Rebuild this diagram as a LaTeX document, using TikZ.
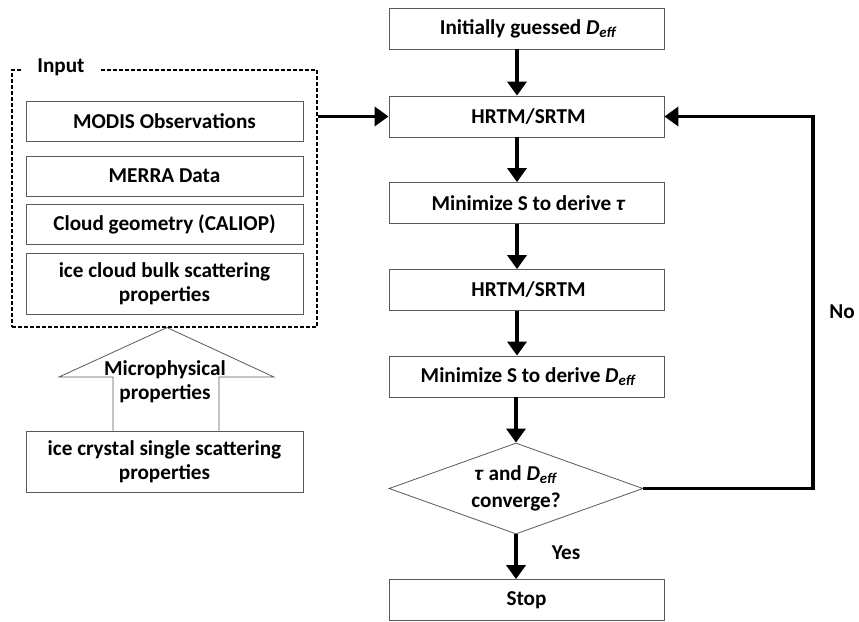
\documentclass[tikz,border=0pt]{standalone}
\usepackage{fontspec}
\setmainfont{Carlito}
\usetikzlibrary{arrows.meta,shapes.geometric,calc}
\tikzset{
  box/.style={draw=black!65, line width=0.8pt, fill=white, inner sep=0pt, align=center,
    font=\fontsize{21.2}{24}\selectfont\bfseries},
  wide/.style={box, minimum width=275pt, minimum height=41pt},
  inbox/.style={box, minimum width=277pt, minimum height=40pt},
  arr/.style={line width=3.6pt, -{Triangle[width=19pt,length=14pt]}},
  lab/.style={font=\fontsize{21.2}{24}\selectfont\bfseries, inner sep=0pt, align=center},
  dashbox/.style={draw=black, line width=1.1pt, dash pattern=on 4pt off 2pt, inner sep=0pt}
}
\newcommand{\Deff}{\textit{D}\textsubscript{\textit{eff}}}
\begin{document}
\begin{tikzpicture}[x=1pt,y=-1pt]
\useasboundingbox (0,0) rectangle (859,621);
% right column
\node[wide] (init) at (526.5,28.5) {\hspace*{4pt}Initially guessed \Deff};
\node[wide] (h1) at (526.5,116.5) {\hspace*{4pt}HRTM/SRTM};
\node[wide] (mt) at (526.5,203) {\hspace*{4pt}Minimize S to derive \textit{τ}};
\node[wide] (h2) at (526.5,290) {\hspace*{4pt}HRTM/SRTM};
\node[wide] (md) at (526.5,376.5) {\hspace*{4pt}Minimize S to derive \Deff};
\node[box, shape=diamond, minimum width=254pt, minimum height=91pt] (dia) at (516,488.5) {};
\node[lab] at (516,488.5) {\textit{τ} and \Deff\\[3pt]converge?};
\node[wide] (stop) at (526.5,600) {Stop};
% arrows
\draw[arr] ([xshift=-9.5pt]init.south) -- ([xshift=-9.5pt]h1.north);
\draw[arr] ([xshift=-9.5pt]h1.south) -- ([xshift=-9.5pt]mt.north);
\draw[arr] ([xshift=-9.5pt]mt.south) -- ([xshift=-9.5pt]h2.north);
\draw[arr] ([xshift=-9.5pt]h2.south) -- ([xshift=-9.5pt]md.north);
\draw[arr] (md.south -| dia.north) -- (dia.north);
\draw[arr] (dia.south) -- (stop.north -| dia.south);
\coordinate (fb) at (813,488.5);
\draw[arr] (dia.east) -- (fb) |- (h1.east);
\node[lab] at (842,312) {No};
\node[lab] at (566,553) {Yes};
% left input box
\node[dashbox, minimum width=305pt, minimum height=257pt] (in) at (164.5,198.5) {};
\node[lab, fill=white, inner xsep=14pt, inner ysep=3pt] (inlab) at (61,67) {Input};
\node[inbox] (modis) at (164.5,121.5) {MODIS Observations};
\node[inbox] (merra) at (164.5,176) {MERRA Data};
\node[inbox] (cloud) at (164.5,224) {Cloud geometry (CALIOP)};
\node[inbox, minimum height=61pt] (bulk) at (164.5,283.5) {ice cloud bulk scattering\\properties};
\draw[arr] (in.east |- h1.west) -- (h1.west);
% bottom box and block arrow
\node[inbox, minimum height=61pt] (single) at (164.5,461.5) {ice crystal single scattering\\properties};
\draw[draw=black!65, line width=0.8pt, fill=white]
  (113,0 |- single.north) -- (113,377) -- (59,377) -- (167,0 |- in.south) -- (274,377) -- (219,377) -- (219,0 |- single.north);
\node[lab] (micro) at (165,382) {Microphysical\\properties};
\end{tikzpicture}
\end{document}
